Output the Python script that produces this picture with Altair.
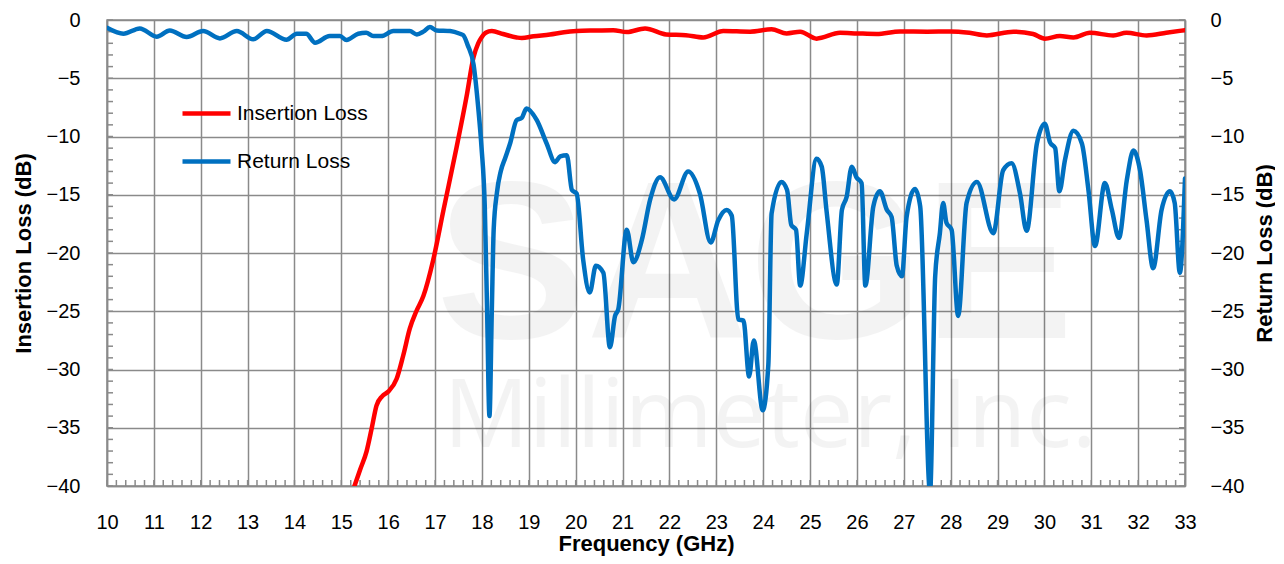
import altair as alt
import pandas as pd
import numpy as np

# ---------------- data ----------------
il_freq = [15.28, 15.40, 15.54, 15.65, 15.75, 15.87, 16.00, 16.18, 16.32, 16.46, 16.60,
           16.75, 16.96, 17.18, 17.46, 17.67, 17.82, 17.92, 17.99, 18.08, 18.21, 18.45,
           18.74, 18.85, 19.10, 19.45, 19.75, 20.02, 20.40, 20.80, 21.09, 21.48, 21.93,
           22.35, 22.72, 23.15, 23.72, 24.18, 24.50, 24.79, 25.14, 25.64, 26.00, 26.42,
           26.92, 27.50, 27.99, 28.40, 28.77, 29.34, 29.76, 30.01, 30.33, 30.62, 30.97,
           31.47, 31.75, 32.18, 32.60, 33.00]
il_db = [-40.0, -38.6, -37.0, -35.0, -33.1, -32.3, -31.9, -30.8, -28.8, -26.5, -25.0,
         -23.7, -20.6, -16.3, -10.9, -6.6, -3.2, -2.0, -1.5, -1.1, -0.95, -1.2,
         -1.5, -1.55, -1.4, -1.24, -1.05, -0.95, -0.9, -0.87, -1.04, -0.72, -1.24,
         -1.3, -1.5, -0.95, -1.0, -0.8, -1.15, -1.0, -1.6, -1.1, -1.15, -1.2,
         -0.98, -1.0, -0.98, -1.1, -1.32, -1.0, -1.2, -1.6, -1.37, -1.5, -1.1,
         -1.32, -1.1, -1.32, -1.1, -0.87]

rl_freq = [10.00, 10.35, 10.70, 11.06, 11.34, 11.70, 12.05, 12.41, 12.77, 13.12, 13.41,
           13.83, 14.05, 14.25, 14.44, 14.75, 14.97, 15.11, 15.36, 15.53, 15.68, 15.85,
           16.11, 16.46, 16.61, 16.75, 16.89, 17.03, 17.32, 17.53, 17.60, 17.70, 17.82,
           17.92, 17.99, 18.06, 18.11, 18.16, 18.21, 18.25, 18.32, 18.40, 18.50, 18.60,
           18.74, 18.85, 18.95, 19.17, 19.38, 19.56, 19.67, 19.81, 19.92, 20.02, 20.16,
           20.30, 20.43, 20.59, 20.73, 20.84, 20.91, 21.09, 21.23, 21.41, 21.59, 21.80,
           22.10, 22.40, 22.65, 22.88, 23.04, 23.22, 23.33, 23.47, 23.58, 23.70, 23.80,
           23.99, 24.11, 24.18, 24.39, 24.51, 24.60, 24.70, 24.79, 24.93, 25.14, 25.25,
           25.35, 25.57, 25.68, 25.78, 25.89, 25.99, 26.10, 26.18, 26.35, 26.49, 26.64,
           26.74, 26.85, 26.96, 27.06, 27.24, 27.35, 27.56, 27.67, 27.77, 27.84, 27.91,
           28.02, 28.16, 28.34, 28.56, 28.91, 29.12, 29.30, 29.48, 29.62, 29.84, 30.01,
           30.12, 30.23, 30.32, 30.44, 30.62, 30.80, 30.94, 31.08, 31.29, 31.44, 31.59,
           31.76, 31.90, 32.04, 32.18, 32.32, 32.50, 32.68, 32.78, 32.89, 33.00]
rl_db = [-0.67, -1.18, -0.72, -1.43, -0.9, -1.46, -0.95, -1.58, -0.95, -1.66, -0.95,
         -1.69, -1.18, -1.18, -1.95, -1.38, -1.38, -1.72, -1.18, -1.1, -1.38, -1.38,
         -0.95, -0.95, -1.24, -1.0, -0.6, -0.9, -0.95, -1.18, -1.3, -2.2, -3.8,
         -7.5, -10.9, -16.0, -25.0, -34.0, -25.0, -18.0, -14.8, -13.0, -11.8, -10.6,
         -8.6, -8.4, -7.6, -8.6, -10.6, -12.2, -11.7, -11.6, -14.6, -14.9, -20.6,
         -23.4, -21.1, -21.7, -28.1, -25.4, -24.8, -18.0, -20.8, -18.9, -15.4, -13.5,
         -15.4, -13.0, -14.9, -19.1, -17.2, -16.3, -16.8, -25.7, -25.8, -30.6, -27.5,
         -33.5, -29.6, -16.6, -13.9, -14.6, -17.6, -18.0, -22.8, -18.3, -11.9, -12.6,
         -16.3, -22.7, -16.3, -15.2, -12.6, -13.5, -14.0, -22.8, -16.0, -14.7, -16.3,
         -16.9, -21.1, -22.0, -16.9, -14.5, -16.0, -40.5, -22.0, -18.3, -15.7, -17.4,
         -18.0, -25.4, -15.7, -13.9, -18.3, -12.9, -12.3, -14.9, -18.1, -10.6, -8.9,
         -10.5, -11.0, -14.7, -12.0, -9.5, -10.6, -14.6, -19.4, -14.0, -16.3, -18.7,
         -13.7, -11.2, -12.9, -17.2, -21.3, -16.3, -14.7, -15.7, -21.7, -13.6]

series_names = ["Insertion Loss", "Return Loss"]
series_colors = ["#ff0000", "#0070c0"]
x_ticks = list(range(10, 34))
y_ticks = [0, -5, -10, -15, -20, -25, -30, -35, -40]
x_minor = [round(v, 1) for v in np.arange(10, 33.001, 0.2)]
y_minor = list(range(-40, 1))
watermark = ["SAGE", "Millimeter, Inc."]

# ---------------- styling ----------------
W, H = 1078, 466
FONT = "Liberation Sans"
GRID = "#8a8a8a"

il = pd.DataFrame({"f": il_freq, "db": il_db, "series": series_names[0]})
rl = pd.DataFrame({"f": rl_freq, "db": rl_db, "series": series_names[1]})

xscale = alt.Scale(domain=[10, 33], nice=False, zero=False)
yscale = alt.Scale(domain=[-40, 0], nice=False, zero=False)

xaxis = alt.Axis(title="Frequency (GHz)", values=x_ticks, format="d", grid=True,
                 gridColor=GRID, gridWidth=1.5, gridOpacity=1, domainColor=GRID,
                 domainWidth=1.5, ticks=False, tickSize=0, labelPadding=26,
                 labelFlush=False, labelFont=FONT, labelFontSize=20,
                 labelColor="black", titleFont=FONT, titleFontSize=22,
                 titleFontWeight="bold", titleColor="black", titleY=47,
                 titleBaseline="top")
x_enc = alt.X("f:Q", scale=xscale, axis=xaxis)

yaxis_left = alt.Axis(title="Insertion Loss (dB)", orient="left", values=y_ticks,
                      grid=True, gridColor=GRID, gridWidth=1.5, gridOpacity=1,
                      domainColor=GRID, domainWidth=1.5, ticks=False, tickSize=0,
                      labelPadding=27, labelFont=FONT, labelFontSize=20,
                      labelColor="black", titleFont=FONT, titleFontSize=22,
                      titleFontWeight="bold", titleColor="black", titleAngle=270,
                      titleX=-84, titleBaseline="middle")
yaxis_right = alt.Axis(title="Return Loss (dB)", orient="right", values=y_ticks,
                       grid=False, domainColor=GRID, domainWidth=1.5, ticks=False,
                       tickSize=0, labelPadding=25, labelFont=FONT, labelFontSize=20,
                       labelColor="black", titleFont=FONT, titleFontSize=22,
                       titleFontWeight="bold", titleColor="black", titleAngle=270,
                       titleX=79, titleBaseline="middle")

color = alt.Color("series:N",
                  scale=alt.Scale(domain=series_names, range=series_colors),
                  legend=alt.Legend(title=None, orient="none", legendX=73, legendY=67,
                                    symbolType="stroke", symbolSize=2304,
                                    symbolStrokeWidth=4.5, labelFont=FONT,
                                    labelFontSize=21, labelColor="black",
                                    labelOffset=4, rowPadding=11, padding=0))

wm1 = alt.Chart(pd.DataFrame({"t": [watermark[0]]})).mark_text(
    font=FONT, fontSize=225, fontWeight="bold", color="#000000", opacity=0.045,
    baseline="alphabetic", align="center").encode(
    text="t:N", x=alt.value(648), y=alt.value(318))
wm2 = alt.Chart(pd.DataFrame({"t": [watermark[1]]})).mark_text(
    font="Open Sans", fontSize=95, color="#000000", opacity=0.045,
    baseline="alphabetic", align="center").encode(
    text="t:N", x=alt.value(663), y=alt.value(427))

xm = alt.Chart(pd.DataFrame({"f": x_minor})).mark_rule(color=GRID, strokeWidth=1.5).encode(
    x=x_enc, y=alt.value(H), y2=alt.value(H - 6))
ym_left = alt.Chart(pd.DataFrame({"db": y_minor})).mark_rule(color=GRID, strokeWidth=1.5).encode(
    y=alt.Y("db:Q", scale=yscale, axis=None), x=alt.value(0), x2=alt.value(6))
ym_right = alt.Chart(pd.DataFrame({"db": y_minor})).mark_rule(color=GRID, strokeWidth=1.5).encode(
    y=alt.Y("db:Q", scale=yscale, axis=None), x=alt.value(W - 6), x2=alt.value(W))

line_kw = dict(strokeWidth=4.5, interpolate="monotone", clip=True,
               strokeCap="round", strokeJoin="round")
il_line = alt.Chart(il).mark_line(**line_kw).encode(
    x=x_enc, y=alt.Y("db:Q", scale=yscale, axis=yaxis_left), color=color, order="f:Q")
rl_line = alt.Chart(rl).mark_line(**line_kw).encode(
    x=x_enc, y=alt.Y("db:Q", scale=yscale, axis=yaxis_right), color=color, order="f:Q")

chart = alt.layer(wm1, wm2, xm, ym_left, ym_right, il_line, rl_line).resolve_scale(
    y="independent"
).properties(
    width=W, height=H,
    padding={"left": 99, "top": 12, "right": 90, "bottom": 70},
    autosize=alt.AutoSizeParams(type="none"),
    background="white",
).configure_view(stroke=GRID, strokeWidth=1.5)

chart.save("out.html", embed_options={"renderer": "svg", "actions": False})
